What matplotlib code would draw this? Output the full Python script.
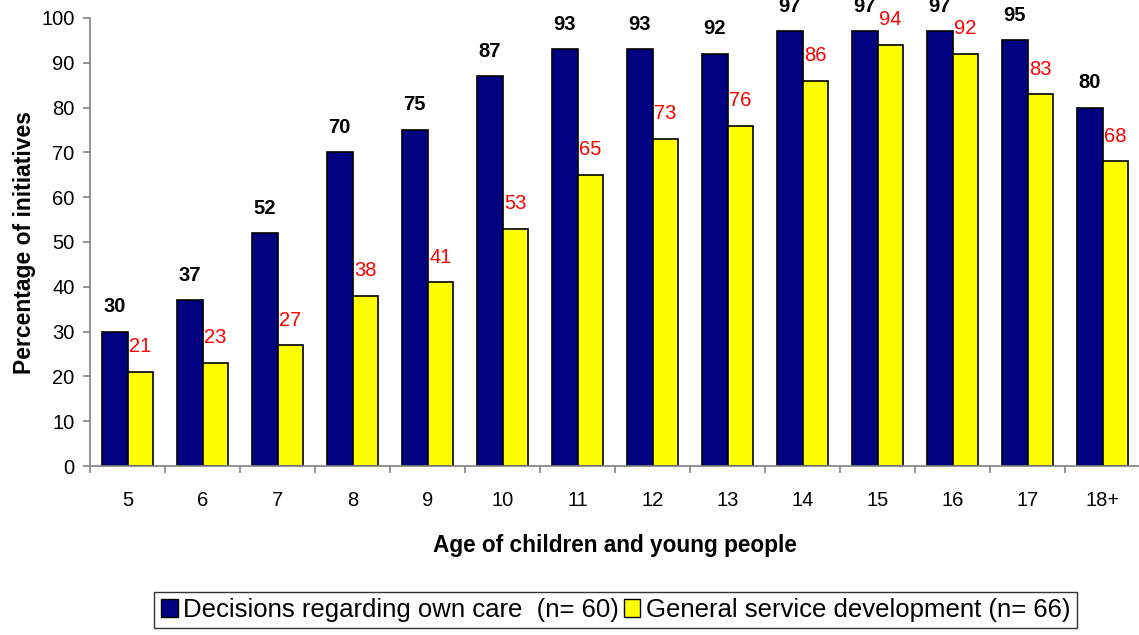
import matplotlib
matplotlib.use("Agg")
import matplotlib.pyplot as plt
from matplotlib.patches import Patch
import numpy as np

plt.rcParams['font.family'] = ['Liberation Sans', 'DejaVu Sans']

edades = ['5', '6', '7', '8', '9', '10', '11', '12', '13', '14', '15', '16', '17', '18+']
propio_cuidado = [30, 37, 52, 70, 75, 87, 93, 93, 92, 97, 97, 97, 95, 80]
servicio_general = [21, 23, 27, 38, 41, 53, 65, 73, 76, 86, 94, 92, 83, 68]

nombre_1 = 'Decisions regarding own care  (n= 60)'
nombre_2 = 'General service development (n= 66)'

azul = '#000080'
amarillo = '#FFFF00'

fig = plt.figure(figsize=(11.39, 6.35), dpi=100)
ax = fig.add_axes([90 / 1139, 1 - 466 / 635, 1050 / 1139, 448 / 635])

x = np.arange(len(edades))
w = 0.34
ax.bar(x - w / 2, propio_cuidado, w, color=azul, edgecolor='black', linewidth=1.2)
ax.bar(x + w / 2, servicio_general, w, color=amarillo, edgecolor='black', linewidth=1.2)

# etiquetas encima de las barras
for xi, v in zip(x, propio_cuidado):
    ax.annotate(str(v), (xi - w / 2, v), xytext=(0, 18), textcoords='offset points',
                ha='center', va='center', fontsize=14.5, fontweight='bold', color='black',
                annotation_clip=False)
for xi, v in zip(x, servicio_general):
    ax.annotate(str(v), (xi + w / 2, v), xytext=(0, 18), textcoords='offset points',
                ha='center', va='center', fontsize=14.5, color='#FF0000',
                annotation_clip=False)

ax.set_xlim(-0.5, len(edades) - 0.5)
ax.set_ylim(0, 100)
ax.set_yticks(range(0, 101, 10))
ax.set_xticks(x)
ax.set_xticklabels(edades)
ax.set_xticks(np.arange(-0.5, len(edades), 1), minor=True)
ax.tick_params(axis='x', which='major', length=0, labelsize=14.5, pad=18)
ax.tick_params(axis='x', which='minor', length=5, color='#808080', width=1.2)
ax.tick_params(axis='y', length=5, color='#808080', width=1.2, labelsize=14.5, pad=6)

for s in ['top', 'right']:
    ax.spines[s].set_visible(False)
for s in ['left', 'bottom']:
    ax.spines[s].set_color('#808080')
    ax.spines[s].set_linewidth(1.2)

ax.set_xlabel('Age of children and young people', fontsize=16.3, fontweight='bold', labelpad=17)
ax.set_ylabel('Percentage of initiatives', fontsize=16.5, fontweight='bold', labelpad=4)

handles = [Patch(facecolor=azul, edgecolor='black', label=nombre_1),
           Patch(facecolor=amarillo, edgecolor='black', label=nombre_2)]
leg = fig.legend(handles=handles, loc='center', bbox_to_anchor=(615.5 / 1139, 1 - 610 / 635),
                 ncol=2, fontsize=18.5, frameon=True, fancybox=False, edgecolor='black',
                 handlelength=0.65, handleheight=0.65, handletextpad=0.2, columnspacing=0.2,
                 borderpad=0.25, borderaxespad=0)
leg.get_frame().set_linewidth(1.0)

plt.savefig('out.png', dpi=100)
